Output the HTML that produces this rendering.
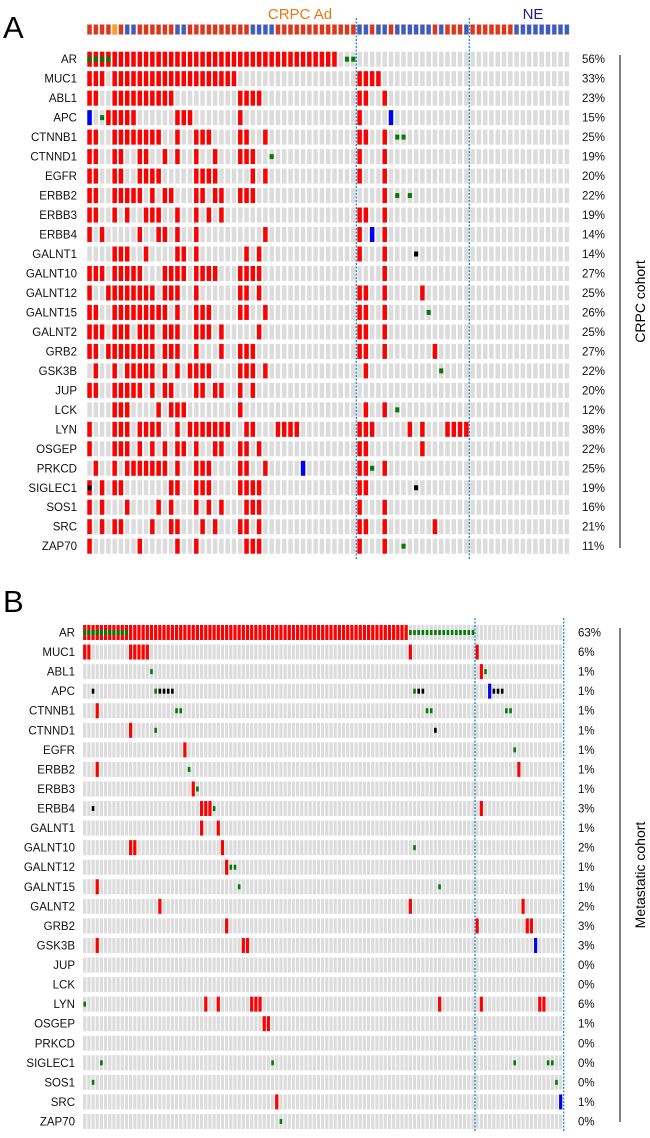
<!DOCTYPE html>
<html><head><meta charset="utf-8"><style>
body{margin:0;background:#fff;width:650px;height:1133px;overflow:hidden;font-family:"Liberation Sans",Arial,sans-serif}
svg text{font-family:"Liberation Sans",Arial,sans-serif}
</style></head><body>
<svg id="c" width="650" height="1133"></svg>
<script>
const genes=["AR","MUC1","ABL1","APC","CTNNB1","CTNND1","EGFR","ERBB2","ERBB3","ERBB4","GALNT1","GALNT10","GALNT12","GALNT15","GALNT2","GRB2","GSK3B","JUP","LCK","LYN","OSGEP","PRKCD","SIGLEC1","SOS1","SRC","ZAP70"];
const pctA=["56%","33%","23%","15%","25%","19%","20%","22%","19%","14%","14%","27%","25%","26%","25%","27%","22%","20%","12%","38%","22%","25%","19%","16%","21%","11%"];
const pctB=["63%","6%","1%","1%","1%","1%","1%","1%","1%","3%","1%","2%","1%","1%","2%","3%","3%","0%","0%","6%","1%","0%","0%","0%","1%","0%"];
function R(a,b){const r=[];for(let i=a;i<=b;i++)r.push(i);return r;}
const annA="RRRRORBBRRRRRRBBRRRRRRRRRRBBBBRRRRRRRRRRRRRBBRBBRBBBBBBRBRRRBRRRRRRRBBBBBBBBB";
const ampA=[
 R(0,39),[0,1,2,...R(4,23),43,44,45,46],[0,1,...R(4,13),24,25,26,27,43,44,47],[3,4,5,6,7,14,15,16,24,43],
 [0,1,...R(4,11),14,17,18,19,24,25,28,43,44,47],[0,1,4,5,8,9,12,14,17,20,24,25,26,43,47],
 [0,1,4,5,8,9,10,11,17,18,19,20,26,28,43,47],[0,1,4,5,6,7,8,10,12,13,17,18,20,21,24,25,26,47],
 [0,1,4,6,9,10,11,14,17,19,21,43,44,47],[0,2,8,11,12,14,17,28,43,47],[4,5,6,9,14,15,17,25,27,43,47],
 [0,1,2,4,5,6,7,8,12,13,14,15,17,18,19,20,24,25,26,27,47],[0,3,4,5,6,7,8,9,10,12,13,14,17,24,25,27,43,44,47,53],
 [0,1,...R(4,12),14,17,18,19,24,25,28,43,44,47],[0,1,2,4,5,6,8,9,10,12,13,14,17,18,19,21,27,43,44,47],
 [0,1,...R(3,10),12,13,14,17,21,24,25,26,43,44,47,55],[1,4,6,7,8,9,10,12,14,16,17,18,19,24,25,26,28,44],
 [0,1,4,5,6,7,8,10,12,13,17,18,20,21,24,26],[4,5,6,11,13,14,15,24,44,47],
 [0,4,5,6,8,9,10,11,14,...R(16,22),25,26,30,31,32,33,43,44,45,51,53,57,58,59,60],
 [0,4,5,6,8,10,12,14,15,17,20,21,24,25,27,43,44,53],[1,4,...R(6,12),14,17,18,19,24,25,28,43,44,47],
 [0,2,4,5,13,14,17,18,19,24,25,26,27,43,44],[0,2,6,11,13,17,19,21,25,26,27,43,47],
 [0,2,4,5,10,13,14,18,20,24,25,27,43,44,47,55],[0,8,14,17,25,26,27,43,47]];
const mutA=[[41,42],[],[],[2],[49,50],[29],[],[49,51],[],[],[],[],[],[54],[],[],[56],[],[49],[],[],[45],[],[],[],[50]];
const delA=[[],[],[],[0,48],[],[],[],[],[],[45],[],[],[],[],[],[],[],[],[],[],[],[34],[],[],[],[]];
const blkA=[[],[],[],[],[],[],[],[],[],[],[52],[],[],[],[],[],[],[],[],[],[],[],[0,52],[],[],[]];
const ampB=[R(0,77),[0,1,11,12,13,14,15,78,94],[95],[],[3],[11],[24],[3,104],[26],[28,29,30,95],[28,32],[11,12,33],[34],[3],[18,78,105],[34,94,106,107],[3,38,39],[],[],[29,32,40,41,42,85,95,109,110],[43,44],[],[],[],[46],[]];
const mutB=[R(78,93),[],[16,96],[17,79],[22,23,82,83,101,102],[17],[103],[25],[27],[31],[],[79],[35,36],[37,85],[],[],[],[],[],[0],[],[],[4,45,103,111,112],[2,113],[],[47]];
const delB=[[],[],[],[97],[],[],[],[],[],[],[],[],[],[],[],[],[108],[],[],[],[],[],[],[],[114],[]];
const blkB=[[],[],[],[2,18,19,20,21,80,81,98,99,100],[],[84],[],[],[],[2],[],[],[],[],[],[],[],[],[],[],[],[],[],[],[],[]];
const svg=document.getElementById('c');const NS='http://www.w3.org/2000/svg';
function el(t,a,p){const e=document.createElementNS(NS,t);for(const k in a)e.setAttribute(k,a[k]);(p||svg).appendChild(e);return e;}
function txt(s,a,p){const e=el('text',a,p);e.textContent=s;return e;}
function panel(P){
 const g=el('g',{});
 
 
 const cx=i=>P.x0+i*P.px, ry=r=>P.y0+r*P.py;
 genes.forEach((gn,r)=>{
  const lab=txt(gn,{x:P.lx,y:ry(r)+11.5,'text-anchor':'end','font-size':11.5,fill:'#111'},g);
  
  
  const pc=txt(P.pct[r],{x:P.pxl,y:ry(r)+11.5,'font-size':11.5,fill:'#111'},g);
  
  
  for(let i=0;i<P.n;i++)el('rect',{x:cx(i),y:ry(r),width:P.w,height:15,fill:'#dcdcdc'},g);
  P.amp[r].forEach(i=>{const e=el('rect',{x:cx(i),y:ry(r),width:P.w,height:15,fill:'#ff0000'},g);});
  P.del[r].forEach(i=>{const e=el('rect',{x:cx(i),y:ry(r),width:P.w,height:15,fill:'#0000ff'},g);});
  P.mut[r].forEach(i=>{const e=el('rect',{x:cx(i)+P.mi,y:ry(r)+5,width:P.w-2*P.mi,height:5,fill:'#067a06'},g);});
  P.blk[r].forEach(i=>{const e=el('rect',{x:cx(i)+P.mi,y:ry(r)+5,width:P.w-2*P.mi,height:5,fill:'#000'},g);});
 });
 P.ov.forEach(i=>el('rect',{x:cx(i),y:ry(0)+5,width:P.w,height:5,fill:'#067a06'},g));
 P.lines.forEach(x=>{const l=el('line',{x1:x,x2:x,y1:P.ly1,y2:P.ly2,stroke:'#1e88d0','stroke-width':1.3,'stroke-dasharray':'2,1.5'},g);});
 el('line',{x1:620,x2:620,y1:P.vy1,y2:P.vy2,stroke:'#000','stroke-width':1},g);
 const ct=txt(P.cohort,{x:645,y:(P.vy1+P.vy2)/2,'font-size':14,'text-anchor':'middle',transform:`rotate(-90 645 ${(P.vy1+P.vy2)/2})`},g);
 
 
 return cx;
}
const cxA=panel({name:'panel-a-crpc',x0:87.3,px:6.28,w:4.5,y0:51.7,py:19.48,n:77,lx:77,pxl:582,pct:pctA,amp:ampA,mut:mutA,del:delA,blk:blkA,mi:0.2,ov:[0,1,2,3],lines:[356.3,469.3],ly1:18,ly2:560,vy1:55,vy2:548,cohort:'CRPC cohort'});
for(let i=0;i<annA.length;i++){const c=annA[i]=='R'?'#d8381c':annA[i]=='B'?'#2f62c8':'#f7a21b';const e=el('rect',{x:cxA(i),y:24.5,width:4.5,height:10,fill:c,stroke:'#f09a90','stroke-width':0.4});}
panel({name:'panel-b-metastatic',x0:83.1,px:4.175,w:3.2,y0:625,py:19.56,n:115,lx:75,pxl:578,pct:pctB,amp:ampB,mut:mutB,del:delB,blk:blkB,mi:0.3,ov:R(0,10),lines:[475,563.7],ly1:618,ly2:1131,vy1:628,vy2:1122,cohort:'Metastatic cohort'});
let t=txt('A',{x:3,y:38,'font-size':31});
t=txt('B',{x:3,y:612,'font-size':31});
t=txt('CRPC Ad',{x:300,y:19,'font-size':15,'text-anchor':'middle',fill:'#e87812'});
t=txt('NE',{x:533,y:19,'font-size':15,'text-anchor':'middle',fill:'#1c1c8a'});
</script>
</body></html>
